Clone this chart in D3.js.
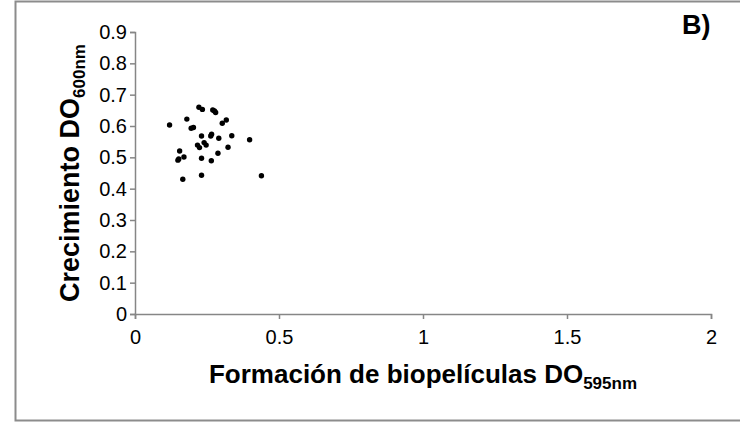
<!DOCTYPE html>
<html>
<head>
<meta charset="utf-8">
<script src="https://cdn.jsdelivr.net/npm/d3@7"></script>
<style>
  body { margin: 0; background: #fff; }
  svg { display: block; font-family: "Liberation Sans", Arial, sans-serif; }
</style>
</head>
<body>
<div id="chart"></div>
<script>
// biofilm (x) vs growth (y) values
var biofilm = [0.120, 0.222, 0.234, 0.270, 0.276, 0.280, 0.180, 0.317, 0.303, 0.195,
               0.203, 0.231, 0.266, 0.263, 0.291, 0.336, 0.398, 0.217, 0.224, 0.240,
               0.247, 0.323, 0.155, 0.288, 0.170, 0.149, 0.152, 0.231, 0.265, 0.166,
               0.231, 0.439];
var growth  = [0.603, 0.660, 0.653, 0.651, 0.648, 0.643, 0.622, 0.619, 0.609, 0.593,
               0.595, 0.568, 0.574, 0.568, 0.561, 0.569, 0.556, 0.539, 0.531, 0.547,
               0.539, 0.532, 0.520, 0.513, 0.501, 0.491, 0.495, 0.497, 0.489, 0.430,
               0.443, 0.441];
var xTicks = [0, 0.5, 1, 1.5, 2];
var yTicks = [0, 0.1, 0.2, 0.3, 0.4, 0.5, 0.6, 0.7, 0.8, 0.9];

var W = 740, H = 422;
var margin = {top: 32, right: 29, bottom: 108, left: 135};
var width = W - margin.left - margin.right,
    height = H - margin.top - margin.bottom;

var svg = d3.select("#chart").append("svg")
  .attr("width", W)
  .attr("height", H);

// outer frame
svg.append("rect")
  .attr("x", 15.5).attr("y", 1.5)
  .attr("width", 740).attr("height", 419)
  .attr("fill", "none")
  .attr("stroke", "#8c8c8c")
  .attr("stroke-width", 2);

var g = svg.append("g")
  .attr("transform", "translate(" + margin.left + "," + margin.top + ")");

var x = d3.scaleLinear().domain([0, 2]).range([0, width]);
var y = d3.scaleLinear().domain([0, 0.9]).range([height, 0]);

var xAxis = g.append("g")
  .attr("transform", "translate(0," + height + ")")
  .call(d3.axisBottom(x).tickValues(xTicks).tickSize(5).tickPadding(11)
    .tickFormat(function(d) { return String(d); }));

var yAxis = g.append("g")
  .call(d3.axisLeft(y).tickValues(yTicks).tickSize(5).tickPadding(3)
    .tickFormat(function(d) { return d === 0 ? "0" : d3.format(".1f")(d); }));

[xAxis, yAxis].forEach(function(a) {
  a.select(".domain").attr("stroke", "#868686").attr("stroke-width", 1.5);
  a.selectAll(".tick line").attr("stroke", "#868686").attr("stroke-width", 1.5);
  a.selectAll(".tick text")
    .attr("fill", "#000")
    .style("font-size", "20px")
    .style("font-family", "'Liberation Sans', Arial, sans-serif");
});
xAxis.selectAll(".tick text").attr("dy", "0.72em");

// points
g.selectAll("circle.pt")
  .data(biofilm.map(function(v, i) { return [v, growth[i]]; }))
  .enter().append("circle")
  .attr("class", "pt")
  .attr("cx", function(d) { return x(d[0]); })
  .attr("cy", function(d) { return y(d[1]); })
  .attr("r", 2.7)
  .attr("fill", "#000");

// x title
var xt = svg.append("text")
  .attr("x", margin.left + width / 2)
  .attr("y", 383)
  .attr("text-anchor", "middle")
  .style("font-size", "26px")
  .style("font-weight", "bold");
xt.append("tspan").text("Formación de biopelículas DO");
xt.append("tspan").attr("dy", 6).style("font-size", "17px").text("595nm");

// y title
var yt = svg.append("text")
  .attr("transform", "translate(79," + (margin.top + height / 2) + ") rotate(-90)")
  .attr("text-anchor", "middle")
  .style("font-size", "27px")
  .style("font-weight", "bold");
yt.append("tspan").text("Crecimiento DO");
yt.append("tspan").attr("dy", 6).style("font-size", "17px").text("600nm");

// panel letter
svg.append("text")
  .attr("x", 682).attr("y", 34)
  .style("font-size", "27px")
  .style("font-weight", "bold")
  .text("B)");
</script>
</body>
</html>
